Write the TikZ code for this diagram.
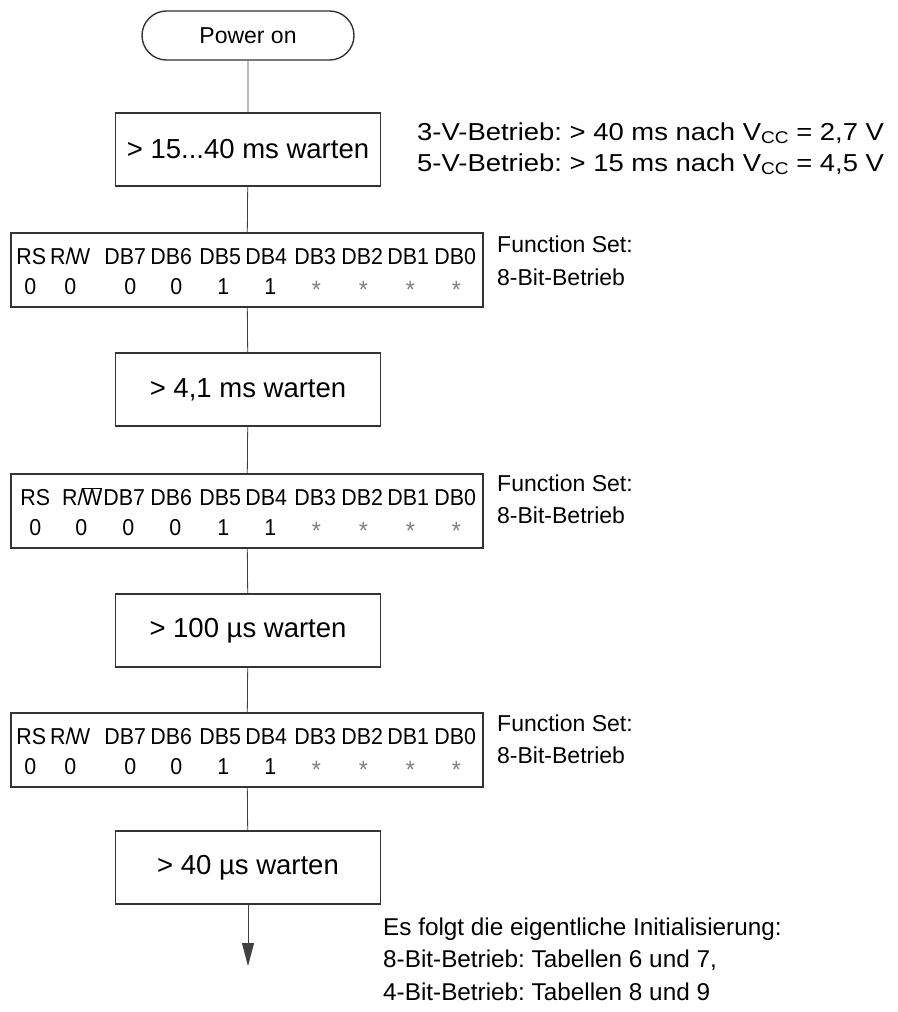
\documentclass[tikz,border=0pt]{standalone}
\usepackage{fontspec}
\setmainfont{Liberation Sans}
\newfontfamily\widenotefont[FakeStretch=1.12]{Liberation Sans}
\newfontfamily\regfont[FakeStretch=0.93]{Liberation Sans}
\usetikzlibrary{shapes.misc,arrows.meta}
\frenchspacing
\newcommand\vccsub[1]{\raisebox{-0.3ex}{\fontsize{17}{17}\selectfont #1}}
\newcommand\regstar{\raisebox{-0.3ex}{\textcolor{black!50}{\fontsize{25}{25}\selectfont *}}}
\newcommand\rwlbl{R/\kern-0.06em W}
\newcommand\rwbarlbl{R/\kern-0.06em$\overline{\mbox{W}}$}
\tikzset{
  boxline/.style={draw=black!80, line width=1.4pt},
  startbox/.style={boxline, rounded rectangle, minimum width=212pt, minimum height=49pt, inner sep=0pt, font=\fontsize{23}{26}\selectfont},
  waitbox/.style={boxline, rectangle, minimum width=265pt, minimum height=73pt, inner sep=0pt, font=\fontsize{27.5}{30}\selectfont},
  regbox/.style={boxline, rectangle, minimum width=472pt, minimum height=74pt, inner sep=0pt},
  reglbl/.style={anchor=base, inner sep=0pt, font=\regfont\fontsize{23}{25}\selectfont},
  note/.style={anchor=base west, inner sep=0pt, font=\fontsize{23}{26}\selectfont},
  widenote/.style={anchor=base west, inner sep=0pt, font=\widenotefont\fontsize{24.5}{28}\selectfont},
  endnote/.style={anchor=base west, inner sep=0pt, font=\fontsize{24.3}{28}\selectfont},
  conn/.style={draw=black!75, line width=0.8pt},
}
\begin{document}
\begin{tikzpicture}[x=1pt,y=-1pt]
\useasboundingbox (0,0) rectangle (897,1012);

\node[startbox] (pwr) at (248,35.5) {Power on};
\node[waitbox] (w1) at (248,149.5) {> 15...40 ms warten};
\node[regbox]  (r1) at (247,270) {};
\node[waitbox] (w2) at (248,389.5) {> 4,1 ms warten};
\node[regbox]  (r2) at (247,511) {};
\node[waitbox] (w3) at (248,630.5) {> 100 µs warten};
\node[regbox]  (r3) at (247,750) {};
\node[waitbox] (w4) at (248,867.5) {> 40 µs warten};
\coordinate (end) at (248,966);

% register contents (positions relative to the box top-left corner)
\foreach \r in {r1,r3}{
  \foreach \lbl/\x [count=\i] in {RS/33,\rwlbl/72,DB7/127,DB6/173,DB5/222,DB4/268,DB3/317,DB2/364,DB1/410,DB0/457}
    \node[reglbl] (\r h\i) at ([shift={(\x-12,32.5)}]\r.north west) {\lbl};
  \foreach \val/\x [count=\i] in {0/32,0/72,0/132,0/178,1/225,1/272,\regstar/318,\regstar/365,\regstar/412,\regstar/458}
    \node[reglbl] (\r v\i) at ([shift={(\x-12,62.5)}]\r.north west) {\val};
}
\foreach \lbl/\x [count=\i] in {RS/37,\rwbarlbl/84,DB7/126,DB6/173,DB5/222,DB4/268,DB3/317,DB2/364,DB1/410,DB0/457}
  \node[reglbl] (r2h\i) at ([shift={(\x-12,32.5)}]r2.north west) {\lbl};
\foreach \val/\x [count=\i] in {0/37,0/83,0/130,0/177,1/225,1/272,\regstar/318,\regstar/365,\regstar/412,\regstar/458}
  \node[reglbl] (r2v\i) at ([shift={(\x-12,62.5)}]r2.north west) {\val};

% connectors
\draw[conn] (pwr) -- (w1);
\draw[conn] (w1) -- (r1);
\draw[conn] (r1) -- (w2);
\draw[conn] (w2) -- (r2);
\draw[conn] (r2) -- (w3);
\draw[conn] (w3) -- (r3);
\draw[conn] (r3) -- (w4);
\draw[conn, -{Triangle[length=23pt,width=12pt]}] (w4) -- (end);

% notes
\node[widenote] (n1) at (417,140) {3-V-Betrieb: > 40 ms nach V\vccsub{CC} = 2,7 V};
\node[widenote] (n2) at (417,171) {5-V-Betrieb: > 15 ms nach V\vccsub{CC} = 4,5 V};
\node[note] (f1a) at (497,252) {Function Set:};
\node[note] (f1b) at (497,285) {8-Bit-Betrieb};
\node[note] (f2a) at (497,491) {Function Set:};
\node[note] (f2b) at (497,523) {8-Bit-Betrieb};
\node[note] (f3a) at (497,731) {Function Set:};
\node[note] (f3b) at (497,763) {8-Bit-Betrieb};
\node[endnote] (b1) at (383,935) {Es folgt die eigentliche Initialisierung:};
\node[endnote] (b2) at (383,967) {8-Bit-Betrieb: Tabellen 6 und 7,};
\node[endnote] (b3) at (383,1000) {4-Bit-Betrieb: Tabellen 8 und 9};
\end{tikzpicture}
\end{document}
